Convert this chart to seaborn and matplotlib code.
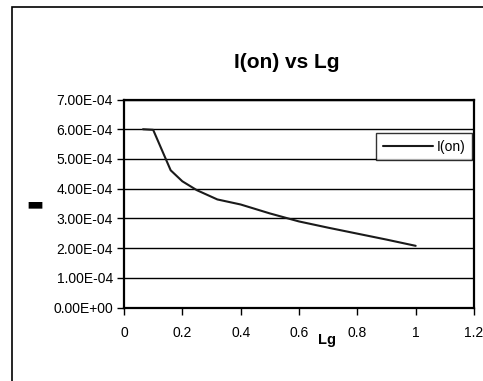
import matplotlib
matplotlib.use("Agg")
import matplotlib.pyplot as plt
import matplotlib.patches as mpatches
import seaborn as sns
import pandas as pd

lg = [0.065, 0.1, 0.16, 0.2, 0.25, 0.32, 0.4, 0.5, 0.6, 0.7, 0.8, 0.9, 1.0]
i_on = [6.00e-4, 5.98e-4, 4.62e-4, 4.25e-4, 3.95e-4, 3.64e-4, 3.47e-4,
        3.17e-4, 2.90e-4, 2.69e-4, 2.49e-4, 2.29e-4, 2.08e-4]
x_ticks = [0, 0.2, 0.4, 0.6, 0.8, 1.0, 1.2]
x_tick_labels = ["0", "0.2", "0.4", "0.6", "0.8", "1", "1.2"]
y_ticks = [0, 1e-4, 2e-4, 3e-4, 4e-4, 5e-4, 6e-4, 7e-4]
y_tick_labels = ["0.00E+00", "1.00E-04", "2.00E-04", "3.00E-04",
                 "4.00E-04", "5.00E-04", "6.00E-04", "7.00E-04"]

df = pd.DataFrame({"Lg": lg, "I(on)": i_on})

sns.set_style("white")
plt.rcParams["font.family"] = ["Liberation Sans", "DejaVu Sans"]
plt.rcParams["text.color"] = "black"
plt.rcParams["xtick.color"] = "black"
plt.rcParams["ytick.color"] = "black"
plt.rcParams["axes.labelcolor"] = "black"

W, H = 483, 381
fig = plt.figure(figsize=(W / 100, H / 100), dpi=100)
ax = fig.add_axes([124 / W, 1 - 307.7 / H, 350 / W, 208.2 / H])

sns.lineplot(data=df, x="Lg", y="I(on)", ax=ax, color="#1a1a1a",
             linewidth=1.5, label="I(on)")

ax.set_xlim(0, 1.2)
ax.set_ylim(0, 7e-4)
ax.set_xticks(x_ticks)
ax.set_xticklabels(x_tick_labels)
ax.set_yticks(y_ticks)
ax.set_yticklabels(y_tick_labels)
ax.yaxis.grid(True, color="black", linewidth=1.0)
ax.xaxis.grid(False)
ax.set_axisbelow(True)
for s in ax.spines.values():
    s.set_color("black")
    s.set_linewidth(1.6)
    s.set_visible(True)
ax.tick_params(axis="both", which="major", direction="out", length=5,
               width=1, colors="black", labelsize=10, pad=3,
               left=True, bottom=True)
ax.tick_params(axis="x", pad=8)
ax.set_xlabel("")
ax.set_ylabel("")

leg = ax.legend(loc="upper right", bbox_to_anchor=(0.9934, 0.8377),
                borderaxespad=0, fancybox=False, frameon=True,
                edgecolor="black", fontsize=10, handlelength=3.6,
                borderpad=0.45, handletextpad=0.3)
leg.get_frame().set_linewidth(1.0)
leg.get_frame().set_facecolor("white")
for t in leg.get_texts():
    t.set_color("black")

fig.text(287 / W, 1 - 63 / H, "I(on) vs Lg", ha="center", va="center",
         fontsize=15, fontweight="bold", color="black")
fig.text(327 / W, 1 - 340 / H, "Lg", ha="center", va="center",
         fontsize=10.5, fontweight="bold", color="black")
fig.text(34.5 / W, 1 - 204 / H, "\u25ac", ha="center", va="center",
         fontsize=13, family=["DejaVu Sans"], color="black")

border = mpatches.Rectangle((12 / W, -0.2), 1.2, 1 - 7 / H + 0.2,
                            transform=fig.transFigure, fill=False,
                            edgecolor="black", linewidth=1.2, clip_on=False)
fig.patches.append(border)

fig.savefig("out.png", dpi=100, facecolor="white")
